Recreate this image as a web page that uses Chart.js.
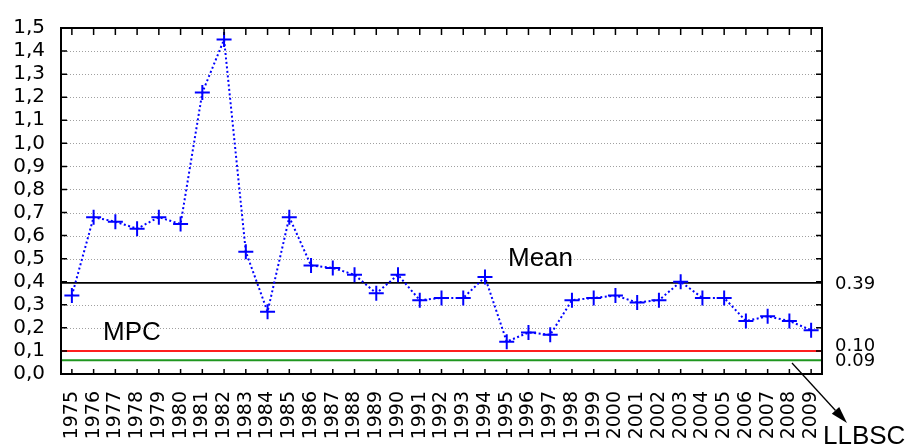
<!DOCTYPE html>
<html>
<head>
<meta charset="utf-8">
<script src="https://cdn.jsdelivr.net/npm/chart.js@4/dist/chart.umd.min.js"></script>
<style>
  html, body { margin: 0; padding: 0; background: #ffffff; }
  #wrap { width: 909px; height: 444px; position: relative; overflow: hidden; }
</style>
</head>
<body>
<div id="wrap"><canvas id="c" width="909" height="444"></canvas></div>
<script>
// ---- data ----
const years = ["1975","1976","1977","1978","1979","1980","1981","1982","1983","1984",
               "1985","1986","1987","1988","1989","1990","1991","1992","1993","1994",
               "1995","1996","1997","1998","1999","2000","2001","2002","2003","2004",
               "2005","2006","2007","2008","2009"];
const values = [0.34, 0.68, 0.66, 0.63, 0.68, 0.65, 1.22, 1.45, 0.53, 0.27,
                0.68, 0.47, 0.46, 0.43, 0.35, 0.43, 0.32, 0.33, 0.33, 0.42,
                0.14, 0.18, 0.17, 0.32, 0.33, 0.34, 0.31, 0.32, 0.40, 0.33,
                0.33, 0.23, 0.25, 0.23, 0.19];
const yTickValues = [0, 0.1, 0.2, 0.3, 0.4, 0.5, 0.6, 0.7, 0.8, 0.9, 1.0, 1.1, 1.2, 1.3, 1.4, 1.5];
const yTickLabels = ["0,0","0,1","0,2","0,3","0,4","0,5","0,6","0,7","0,8","0,9","1,0","1,1","1,2","1,3","1,4","1,5"];
const meanValue = 0.395;
const mpcRedValue = 0.10;
const mpcGreenValue = 0.06;
const refLabels = ["0.39", "0.10", "0.09"];
const annotationTexts = ["Mean", "MPC", "LLBSC"];

const DIGIT_FONT = '"DejaVu Sans", sans-serif';
const TEXT_FONT = '"Liberation Sans", Arial, sans-serif';

const deco = {
  id: 'deco',
  beforeDatasetsDraw(chart) {
    const { ctx, chartArea: a, scales: { y } } = chart;
    ctx.save();
    // dotted grey grid
    ctx.strokeStyle = '#a0a0a0';
    ctx.lineWidth = 1;
    ctx.setLineDash([1, 2]);
    yTickValues.forEach(v => {
      if (v === yTickValues[0] || v === yTickValues[yTickValues.length - 1]) return;
      const py = Math.round(y.getPixelForValue(v)) + 0.5;
      ctx.beginPath(); ctx.moveTo(a.left, py); ctx.lineTo(a.right, py); ctx.stroke();
    });
    ctx.setLineDash([]);
    const hline = (v, color, w) => {
      const py = y.getPixelForValue(v);
      ctx.strokeStyle = color; ctx.lineWidth = w;
      ctx.beginPath(); ctx.moveTo(a.left, py); ctx.lineTo(a.right, py); ctx.stroke();
    };
    hline(mpcGreenValue, '#1f961f', 2);
    hline(mpcRedValue, '#ff1e1e', 2);
    hline(meanValue, '#000000', 1.6);
    ctx.restore();
  },
  afterDatasetsDraw(chart) {
    const { ctx, chartArea: a, scales: { x, y } } = chart;
    ctx.save();
    // frame
    ctx.strokeStyle = '#000'; ctx.lineWidth = 2;
    ctx.strokeRect(a.left, a.top, a.right - a.left, a.bottom - a.top);
    // inward ticks
    ctx.lineWidth = 1.5;
    years.forEach((yr, i) => {
      const px = x.getPixelForValue(i);
      ctx.beginPath();
      ctx.moveTo(px, a.bottom); ctx.lineTo(px, a.bottom - 5);
      ctx.moveTo(px, a.top); ctx.lineTo(px, a.top + 7);
      ctx.stroke();
    });
    yTickValues.forEach(v => {
      const py = y.getPixelForValue(v);
      ctx.beginPath();
      ctx.moveTo(a.left, py); ctx.lineTo(a.left + 6, py);
      ctx.moveTo(a.right, py); ctx.lineTo(a.right - 6, py);
      ctx.stroke();
    });
    // annotation texts
    ctx.fillStyle = '#000';
    ctx.font = '26px ' + TEXT_FONT;
    ctx.textAlign = 'left';
    ctx.textBaseline = 'alphabetic';
    const yMean = y.getPixelForValue(meanValue);
    const yRed = y.getPixelForValue(mpcRedValue);
    const yGreen = y.getPixelForValue(mpcGreenValue);
    ctx.fillText(annotationTexts[0], 508, yMean - 17);
    ctx.fillText(annotationTexts[1], 103, yRed - 10.5);
    ctx.fillText(annotationTexts[2], a.right + 1, 443.6);
    // right-side value labels
    ctx.font = '18px ' + DIGIT_FONT;
    ctx.textBaseline = 'middle';
    ctx.fillText(refLabels[0], a.right + 13, yMean + 1);
    ctx.fillText(refLabels[1], a.right + 13, yRed - 4.5);
    ctx.fillText(refLabels[2], a.right + 13, yGreen + 1.5);
    // arrow
    const sx = 792, sy = 363, tx = 847, ty = 423;
    const dx = tx - sx, dy = ty - sy, len = Math.hypot(dx, dy);
    const ux = dx / len, uy = dy / len;
    const hl = 17, hw = 5;
    const bx = tx - hl * ux, by = ty - hl * uy;
    ctx.strokeStyle = '#000'; ctx.lineWidth = 1.3;
    ctx.beginPath(); ctx.moveTo(sx, sy); ctx.lineTo(bx, by); ctx.stroke();
    ctx.beginPath();
    ctx.moveTo(tx, ty);
    ctx.lineTo(bx - hw * uy, by + hw * ux);
    ctx.lineTo(bx + hw * uy, by - hw * ux);
    ctx.closePath(); ctx.fill();
    ctx.restore();
  }
};

new Chart(document.getElementById('c'), {
  type: 'line',
  data: {
    labels: years,
    datasets: [{
      data: values,
      borderColor: '#0000ff',
      borderWidth: 2,
      borderDash: [2, 2.5],
      tension: 0,
      fill: false,
      pointStyle: 'cross',
      pointRadius: 7.5,
      pointBorderWidth: 2,
      pointBorderColor: '#0000ff',
      pointBackgroundColor: '#0000ff'
    }]
  },
  options: {
    responsive: false,
    animation: false,
    devicePixelRatio: 1,
    layout: { padding: { left: 0, top: 23, right: 87, bottom: 0 } },
    plugins: { legend: { display: false }, tooltip: { enabled: false } },
    scales: {
      x: {
        type: 'category',
        offset: true,
        grid: { display: false, drawTicks: false },
        border: { display: false },
        ticks: {
          autoSkip: false, maxRotation: 90, minRotation: 90, padding: 17,
          color: '#000', font: { family: DIGIT_FONT, size: 19 }
        },
        afterFit: s => { s.height = 70; }
      },
      y: {
        min: 0, max: 1.5,
        grid: { display: false, drawTicks: false },
        border: { display: false },
        afterBuildTicks: s => { s.ticks = yTickValues.map(v => ({ value: v })); },
        ticks: {
          autoSkip: false, padding: 16, color: '#000', font: { family: DIGIT_FONT, size: 20 },
          callback: (v, i) => yTickLabels[i]
        },
        afterFit: s => { s.width = 61; }
      }
    }
  },
  plugins: [deco]
});
</script>
</body>
</html>
